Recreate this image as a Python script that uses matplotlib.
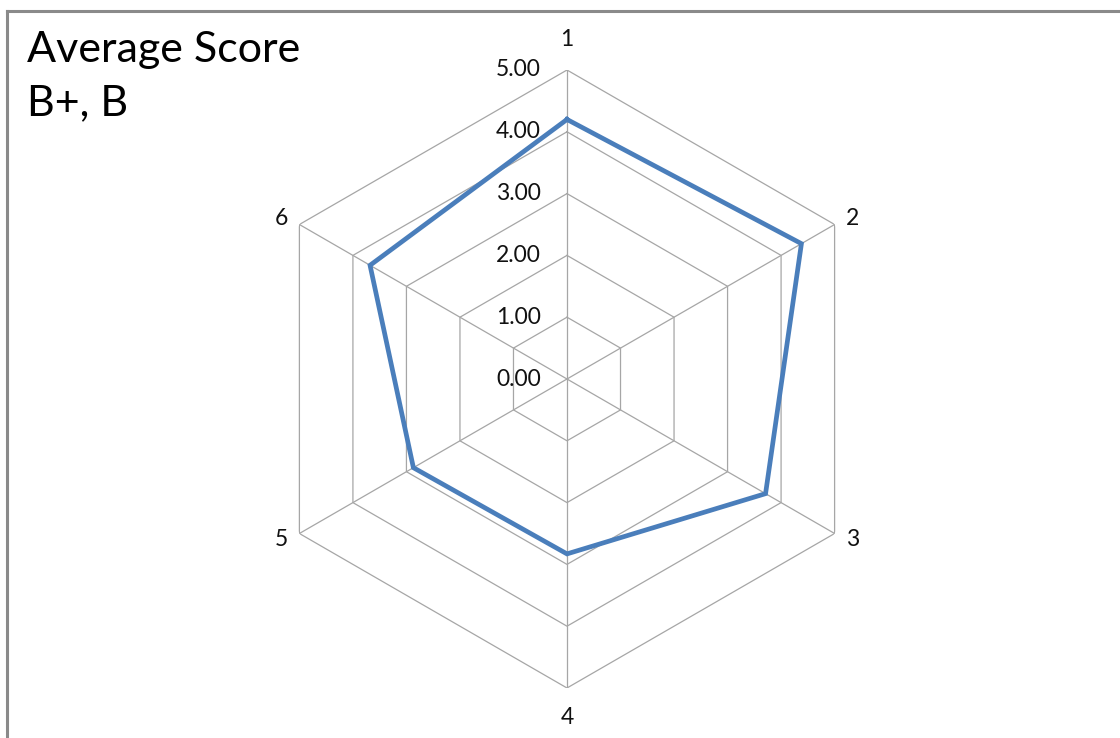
import numpy as np
import matplotlib
matplotlib.use("Agg")
import matplotlib.pyplot as plt
from matplotlib.lines import Line2D

plt.rcParams['font.family'] = ['Lato', 'DejaVu Sans']

# scores on the six axes
categories = ['1', '2', '3', '4', '5', '6']
scores = [4.20, 4.38, 3.71, 2.83, 2.87, 3.68]
levels = [0, 1, 2, 3, 4, 5]
level_labels = ['0.00', '1.00', '2.00', '3.00', '4.00', '5.00']

n = len(categories)
theta = np.arange(n) * 2 * np.pi / n
theta_c = np.append(theta, theta[0])

W, H = 1120, 738
fig = plt.figure(figsize=(W / 100, H / 100), dpi=100)
fig.patch.set_facecolor('white')

# chart area border (top and left edges)
border = '#8a8a8a'
fig.add_artist(Line2D([7 / W, 7 / W], [0, 1 - 11 / H], color=border, lw=2.2,
                      transform=fig.transFigure, solid_capstyle='projecting'))
fig.add_artist(Line2D([7 / W, 1], [1 - 11 / H, 1 - 11 / H], color=border, lw=2.2,
                      transform=fig.transFigure, solid_capstyle='projecting'))

cx, cy, R = 567, 379, 309
ax = fig.add_axes([(cx - R) / W, (H - cy - R) / H, 2 * R / W, 2 * R / H],
                  projection='polar')
ax.set_theta_offset(np.pi / 2)
ax.set_theta_direction(-1)
ax.set_ylim(0, 5)
ax.grid(False)
ax.set_xticks([])
ax.set_yticks([])
ax.spines['polar'].set_visible(False)
ax.patch.set_alpha(0)

grid_c = '#a6a6a6'
# hexagonal rings
for lv in levels[1:]:
    ax.plot(theta_c, [lv] * (n + 1), color=grid_c, lw=0.9, zorder=1)
# spokes
for t in theta:
    ax.plot([t, t], [0, 5], color=grid_c, lw=0.9, zorder=1)

# data line
ax.plot(theta_c, scores + scores[:1], color='#4a7ebb', lw=3.4, zorder=3,
        solid_joinstyle='miter')

# value labels along the first axis
for lv, lab in zip(levels, level_labels):
    ax.annotate(lab, (0, lv), xytext=(-26, 0), textcoords='offset pixels',
                ha='right', va='center', fontsize=16.5, color='#111111')

# axis labels
offsets = [(0, 30), (18, 6), (18, -6), (0, -30), (-18, -6), (-18, 6)]
for t, lab, off in zip(theta, categories, offsets):
    ax.annotate(lab, (t, 5), xytext=off, textcoords='offset pixels',
                ha='center', va='center', fontsize=16.5, color='#111111')

fig.text(27 / W, 1 - 50 / H, 'Average Score', fontsize=31, va='center',
         ha='left', color='#000000')
fig.text(27 / W, 1 - 103 / H, 'B+, B', fontsize=31, va='center',
         ha='left', color='#000000')

fig.savefig('out.png', dpi=100)
